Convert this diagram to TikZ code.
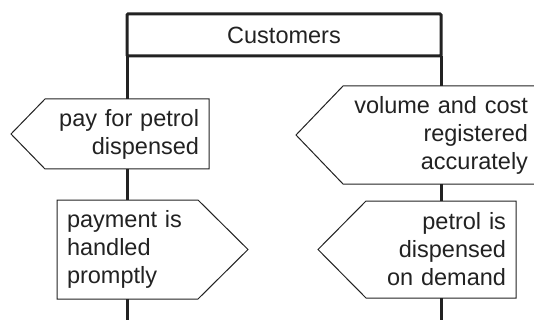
\documentclass[tikz,border=0pt]{standalone}
\usepackage{fontspec}
\setmainfont{Liberation Sans}
\definecolor{ink}{HTML}{222222}
\tikzset{
  lane/.style={draw=ink, line width=3pt},
  boxline/.style={draw=ink, line width=1pt, line join=miter},
  body/.style={rectangle, inner xsep=10pt, inner ysep=0pt, outer sep=0pt, anchor=north west,
    font=\fontsize{23.5}{28}\selectfont, text=ink},
}
\begin{document}
\begin{tikzpicture}[x=1pt,y=-1pt]
\clip (0,0) rectangle (534,320);
\fill[white] (0,0) rectangle (534,320);

\node[draw=ink, line width=3pt, rounded corners=1pt, minimum width=314pt, minimum height=42pt,
  anchor=north west, inner sep=0pt, outer sep=0pt, font=\fontsize{23.5}{28}\selectfont, text=ink] (cust) at (127,14) {Customers};

\node[body, minimum width=164pt, text width=144pt, minimum height=70pt, align=right] (pay) at (45,99) {pay for petrol\\dispensed};
\draw[boxline] (pay.north west) -- (pay.north east) -- (pay.south east) -- (pay.south west) -- ([xshift=-34pt]pay.west) -- cycle;

\node[body, minimum width=195pt, text width=175pt, minimum height=98pt, align=right] (vol) at (343,86) {volume and cost\\registered\\accurately};
\draw[boxline] (vol.north west) -- (vol.north east) -- (vol.south east) -- (vol.south west) -- ([xshift=-47pt]vol.west) -- cycle;

\node[body, minimum width=141pt, text width=121pt, minimum height=99pt, align=left] (pmt) at (57,200) {payment is\\handled\\promptly};
\draw[boxline] (pmt.north west) -- (pmt.north east) -- ([xshift=50pt]pmt.east) -- (pmt.south east) -- (pmt.south west) -- cycle;

\node[body, minimum width=150pt, text width=130pt, minimum height=97pt, align=right] (pet) at (366,201) {petrol is\\dispensed\\on demand};
\draw[boxline] (pet.north west) -- (pet.north east) -- (pet.south east) -- (pet.south west) -- ([xshift=-48pt]pet.west) -- cycle;

\coordinate (lb) at (127,322);
\coordinate (rb) at (441,322);

\draw[lane] (cust.south west) -- (pay.north -| cust.south west);
\draw[lane] (pay.south -| cust.south west) -- (pmt.north -| cust.south west);
\draw[lane] (pmt.south -| cust.south west) -- (lb);

\draw[lane] (cust.south east) -- (vol.north -| cust.south east);
\draw[lane] (vol.south -| cust.south east) -- (pet.north -| cust.south east);
\draw[lane] (pet.south -| cust.south east) -- (rb);
\end{tikzpicture}
\end{document}
